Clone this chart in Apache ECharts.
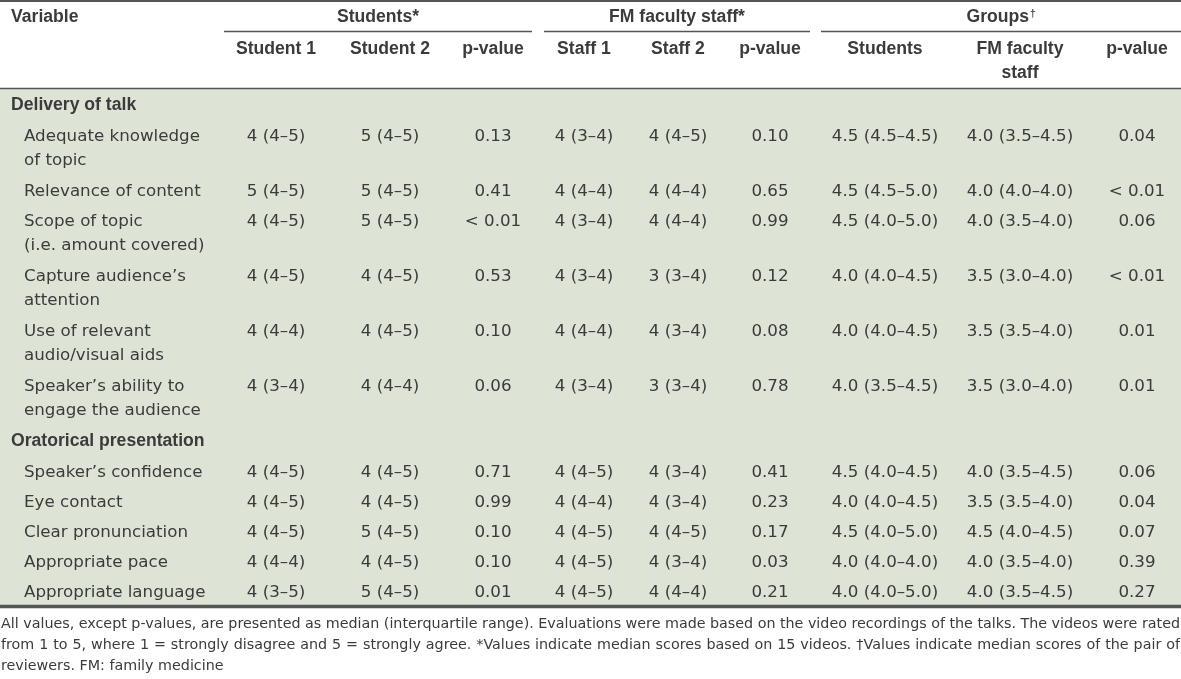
<!DOCTYPE html>
<html>
<head>
<meta charset="utf-8">
<script src="https://cdn.jsdelivr.net/npm/echarts@6/dist/echarts.min.js"></script>
<style>html,body{margin:0;padding:0;background:#fff;}#c{width:1181px;height:679px;}</style>
</head>
<body>
<div id="c"></div>
<script>
// ---------- DATA ----------
const groupHeaders = ["Students*", "FM faculty staff*", "Groups"];
const groupMarks = ["", "", "†"];
const columnHeaders = ["Student 1", "Student 2", "p-value", "Staff 1", "Staff 2", "p-value", "Students", "FM faculty\nstaff", "p-value"];
const sections = ["Delivery of talk", "Oratorical presentation"];
const rowSection = [0, 0, 0, 0, 0, 0, 1, 1, 1, 1, 1];
const variables = [
  "Adequate knowledge\nof topic",
  "Relevance of content",
  "Scope of topic\n(i.e. amount covered)",
  "Capture audience’s\nattention",
  "Use of relevant\naudio/visual aids",
  "Speaker’s ability to\nengage the audience",
  "Speaker’s confidence",
  "Eye contact",
  "Clear pronunciation",
  "Appropriate pace",
  "Appropriate language"
];
const student1 = ["4 (4–5)", "5 (4–5)", "4 (4–5)", "4 (4–5)", "4 (4–4)", "4 (3–4)", "4 (4–5)", "4 (4–5)", "4 (4–5)", "4 (4–4)", "4 (3–5)"];
const student2 = ["5 (4–5)", "5 (4–5)", "5 (4–5)", "4 (4–5)", "4 (4–5)", "4 (4–4)", "4 (4–5)", "4 (4–5)", "5 (4–5)", "4 (4–5)", "5 (4–5)"];
const pStudents = ["0.13", "0.41", "< 0.01", "0.53", "0.10", "0.06", "0.71", "0.99", "0.10", "0.10", "0.01"];
const staff1 = ["4 (3–4)", "4 (4–4)", "4 (3–4)", "4 (3–4)", "4 (4–4)", "4 (3–4)", "4 (4–5)", "4 (4–4)", "4 (4–5)", "4 (4–5)", "4 (4–5)"];
const staff2 = ["4 (4–5)", "4 (4–4)", "4 (4–4)", "3 (3–4)", "4 (3–4)", "3 (3–4)", "4 (3–4)", "4 (3–4)", "4 (4–5)", "4 (3–4)", "4 (4–4)"];
const pStaff = ["0.10", "0.65", "0.99", "0.12", "0.08", "0.78", "0.41", "0.23", "0.17", "0.03", "0.21"];
const groupStudents = ["4.5 (4.5–4.5)", "4.5 (4.5–5.0)", "4.5 (4.0–5.0)", "4.0 (4.0–4.5)", "4.0 (4.0–4.5)", "4.0 (3.5–4.5)", "4.5 (4.0–4.5)", "4.0 (4.0–4.5)", "4.5 (4.0–5.0)", "4.0 (4.0–4.0)", "4.0 (4.0–5.0)"];
const groupStaff = ["4.0 (3.5–4.5)", "4.0 (4.0–4.0)", "4.0 (3.5–4.0)", "3.5 (3.0–4.0)", "3.5 (3.5–4.0)", "3.5 (3.0–4.0)", "4.0 (3.5–4.5)", "3.5 (3.5–4.0)", "4.5 (4.0–4.5)", "4.0 (3.5–4.0)", "4.0 (3.5–4.5)"];
const pGroups = ["0.04", "< 0.01", "0.06", "< 0.01", "0.01", "0.01", "0.06", "0.04", "0.07", "0.39", "0.27"];
const footnoteLines = [
  "All values, except p-values, are presented as median (interquartile range). Evaluations were made based on the video recordings of the talks. The videos were rated",
  "from 1 to 5, where 1 = strongly disagree and 5 = strongly agree. *Values indicate median scores based on 15 videos. †Values indicate median scores of the pair of",
  "reviewers. FM: family medicine"
];

// ---------- LAYOUT ----------
const W = 1181;
const TEXT = '#3b3b3b';
const LINE = '#555555';
const BG = '#dde4d6';
const BODY_FONT = '"DejaVu Sans", sans-serif';
const BOLD_FONT = '"Liberation Sans", Arial, sans-serif';
const bodySize = 16.7, boldSize = 17.6, noteSize = 14.3;
const colX = [276, 390, 493, 584, 678, 770, 885, 1020, 1137];
const groupSpans = [[224, 532], [544, 810], [821, 1181]];
const columns = [student1, student2, pStudents, staff1, staff2, pStaff, groupStudents, groupStaff, pGroups];
const HEAD_DY = -11, BODY_DY = -10;

const els = [];
els.push({type: 'rect', shape: {x: 0, y: 88, width: W, height: 518}, style: {fill: BG}, z: 0});
function hline(x1, x2, y, w) {
  els.push({type: 'line', shape: {x1: x1, y1: y, x2: x2, y2: y}, style: {stroke: LINE, lineWidth: w}, z: 5});
}
hline(0, W, 1, 2);
groupSpans.forEach(s => hline(s[0], s[1], 31.5, 1.3));
hline(0, W, 88.5, 1.5);
hline(0, W, 606.5, 3.5);

function txt(x, y, s, opt) {
  els.push({type: 'text', x: x, y: y, z: 10, style: Object.assign({
    text: s, fill: TEXT, font: bodySize + 'px ' + BODY_FONT,
    textAlign: 'left', textVerticalAlign: 'top', lineHeight: 24
  }, opt || {})});
}
const boldFont = 'bold ' + boldSize + 'px ' + BOLD_FONT;
const supFont = 'bold 10px ' + BOLD_FONT;
const cv = document.createElement('canvas').getContext('2d');

// header row 1
txt(11, 16 + HEAD_DY, 'Variable', {font: boldFont});
groupHeaders.forEach((h, i) => {
  const cx = (groupSpans[i][0] + groupSpans[i][1]) / 2;
  if (groupMarks[i]) {
    cv.font = boldFont; const w1 = cv.measureText(h).width;
    cv.font = supFont; const w2 = cv.measureText(groupMarks[i]).width;
    const x0 = cx - (w1 + w2 + 1) / 2;
    txt(x0, 16 + HEAD_DY, h, {font: boldFont});
    txt(x0 + w1 + 1, 8, groupMarks[i], {font: supFont, lineHeight: 12});
  } else {
    txt(cx, 16 + HEAD_DY, h, {font: boldFont, textAlign: 'center'});
  }
});
// header row 2
columnHeaders.forEach((h, i) => {
  txt(colX[i], 48 + HEAD_DY, h, {font: boldFont, textAlign: 'center'});
});

// body rows
let cursor = 104;
let lastSection = -1;
variables.forEach((v, r) => {
  if (rowSection[r] !== lastSection) {
    lastSection = rowSection[r];
    txt(11, cursor + HEAD_DY, sections[lastSection], {font: boldFont});
    cursor += 31;
  }
  txt(24, cursor + BODY_DY, v);
  columns.forEach((col, c) => {
    txt(colX[c], cursor + BODY_DY, col[r], {textAlign: 'center'});
  });
  const lines = v.split('\n').length;
  cursor += 30 + (lines - 1) * 25;
});

// footnote (justified)
const noteFont = noteSize + 'px ' + BODY_FONT;
cv.font = noteFont;
const noteY = [624, 645, 666];
footnoteLines.forEach((line, li) => {
  const justify = li < footnoteLines.length - 1;
  if (!justify) { txt(1, noteY[li] - 10, line, {font: noteFont, lineHeight: 20}); return; }
  const words = line.split(' ');
  const widths = words.map(w => cv.measureText(w).width);
  const total = widths.reduce((a, b) => a + b, 0);
  const gap = (W - 2 - total) / (words.length - 1);
  let x = 1;
  words.forEach((w, k) => {
    txt(x, noteY[li] - 10, w, {font: noteFont, lineHeight: 20});
    x += widths[k] + gap;
  });
});

const chart = echarts.init(document.getElementById('c'), null, {renderer: 'canvas', width: 1181, height: 679});
chart.setOption({backgroundColor: '#ffffff', animation: false, graphic: {elements: els}});
</script>
</body>
</html>
